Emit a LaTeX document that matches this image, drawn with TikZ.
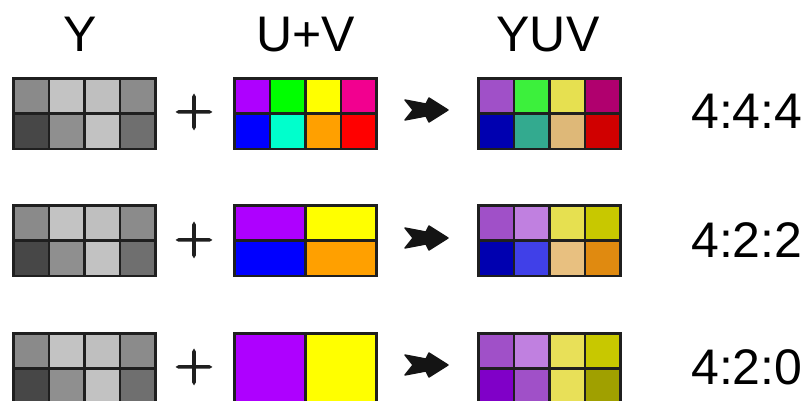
\documentclass[tikz,border=0pt]{standalone}
\usepackage{fontspec}
\usetikzlibrary{calc}
\setmainfont{Liberation Sans}
\newfontfamily\plusfont[FakeBold=3]{lmsans10-regular.otf}
\definecolor{ya}{HTML}{8A8A8A}\definecolor{yb}{HTML}{C3C3C3}\definecolor{yc}{HTML}{BFBFBF}\definecolor{yd}{HTML}{8B8B8B}
\definecolor{ye}{HTML}{474747}\definecolor{yf}{HTML}{8F8F8F}\definecolor{yg}{HTML}{C2C2C2}\definecolor{yh}{HTML}{6F6F6F}
\definecolor{cpur}{HTML}{AE00FF}\definecolor{cgrn}{HTML}{00FF00}\definecolor{cyel}{HTML}{FFFF00}\definecolor{cpnk}{HTML}{F2008F}
\definecolor{cblu}{HTML}{0000FF}\definecolor{caqu}{HTML}{00FFCC}\definecolor{cora}{HTML}{FFA000}\definecolor{cred}{HTML}{FF0000}
\definecolor{pa}{HTML}{A050C8}\definecolor{pb}{HTML}{3CF03C}\definecolor{pc}{HTML}{E6E050}\definecolor{pd}{HTML}{B0006E}
\definecolor{pe}{HTML}{0000B0}\definecolor{pf}{HTML}{33AA8F}\definecolor{pg}{HTML}{DEB878}\definecolor{ph}{HTML}{D00000}
\definecolor{qb}{HTML}{C080E0}\definecolor{qd}{HTML}{C8C800}\definecolor{qf}{HTML}{4040E8}\definecolor{qg}{HTML}{E8C080}\definecolor{qh}{HTML}{E08A10}
\definecolor{re}{HTML}{8000C8}\definecolor{rc}{HTML}{E8E058}\definecolor{rh}{HTML}{A0A000}
\begin{document}
\begin{tikzpicture}[x=1pt,y=-1pt,
  cell/.style={draw=black!88, line width=2.6pt, inner sep=0pt, anchor=north west,
    minimum width=35.5pt, minimum height=35.3pt},
  wcell/.style={cell, minimum width=71pt},
  tcell/.style={cell, minimum width=71pt, minimum height=70.6pt},
  head/.style={font=\fontsize{50}{60}\selectfont, inner sep=0pt, anchor=base},
  ratio/.style={font=\fontsize{50}{60}\selectfont, inner sep=0pt, anchor=base west},
  plus/.style={font=\plusfont\fontsize{51}{60}\selectfont, text=black!88, inner sep=0pt, anchor=base},
  arrowshape/.style={fill=black!92, draw=black!92, line width=1.4pt, line join=round}]
\useasboundingbox (0,0) rectangle (806,401);
% headings
\node[head] (hy) at (80,52) {Y};
\node[head] (huv) at (306,52) {U+V};
\node[head] (hyuv) at (548,52) {YUV};
% rows
\foreach \r/\top/\cy/\lab in {1/77/112/4:4:4, 2/204/240/4:2:2, 3/332/367/4:2:0}{
  % Y grid
  \foreach \i/\c in {0/ya,1/yb,2/yc,3/yd}
    \node[cell, fill=\c] (y\r t\i) at (12+35.5*\i,\top) {};
  \foreach \i/\c in {0/ye,1/yf,2/yg,3/yh}
    \node[cell, fill=\c] (y\r b\i) at (12+35.5*\i,\top+35.3) {};
  \node[plus] (plus\r) at (194,\cy+12.7) {+};
  \node[ratio] (ratio\r) at (691,\cy+17) {\lab};
  \coordinate (ar\r) at (426,\cy-2);
  \draw[arrowshape] ($(ar\r)+(-21,-10)$) -- ++(21,4) -- ++(3,-6) -- ++(19,12) -- ++(-19,12)
     -- ++(-3,-6) -- ++(-21,4) -- ++(8,-10) -- cycle;
}
% U+V grids
\foreach \i/\c in {0/cpur,1/cgrn,2/cyel,3/cpnk}
  \node[cell, fill=\c] (uv1t\i) at (233+35.5*\i,77) {};
\foreach \i/\c in {0/cblu,1/caqu,2/cora,3/cred}
  \node[cell, fill=\c] (uv1b\i) at (233+35.5*\i,112.3) {};
\node[wcell, fill=cpur] (uv2t0) at (233,204) {};
\node[wcell, fill=cyel] (uv2t1) at (304,204) {};
\node[wcell, fill=cblu] (uv2b0) at (233,239.3) {};
\node[wcell, fill=cora] (uv2b1) at (304,239.3) {};
\node[tcell, fill=cpur] (uv3a) at (233,332) {};
\node[tcell, fill=cyel] (uv3b) at (304,332) {};
% YUV grids
\foreach \i/\c in {0/pa,1/pb,2/pc,3/pd}
  \node[cell, fill=\c] (p1t\i) at (477+35.5*\i,77) {};
\foreach \i/\c in {0/pe,1/pf,2/pg,3/ph}
  \node[cell, fill=\c] (p1b\i) at (477+35.5*\i,112.3) {};
\foreach \i/\c in {0/pa,1/qb,2/pc,3/qd}
  \node[cell, fill=\c] (p2t\i) at (477+35.5*\i,204) {};
\foreach \i/\c in {0/pe,1/qf,2/qg,3/qh}
  \node[cell, fill=\c] (p2b\i) at (477+35.5*\i,239.3) {};
\foreach \i/\c in {0/pa,1/qb,2/rc,3/qd}
  \node[cell, fill=\c] (p3t\i) at (477+35.5*\i,332) {};
\foreach \i/\c in {0/re,1/pa,2/rc,3/rh}
  \node[cell, fill=\c] (p3b\i) at (477+35.5*\i,367.3) {};
\end{tikzpicture}
\end{document}
